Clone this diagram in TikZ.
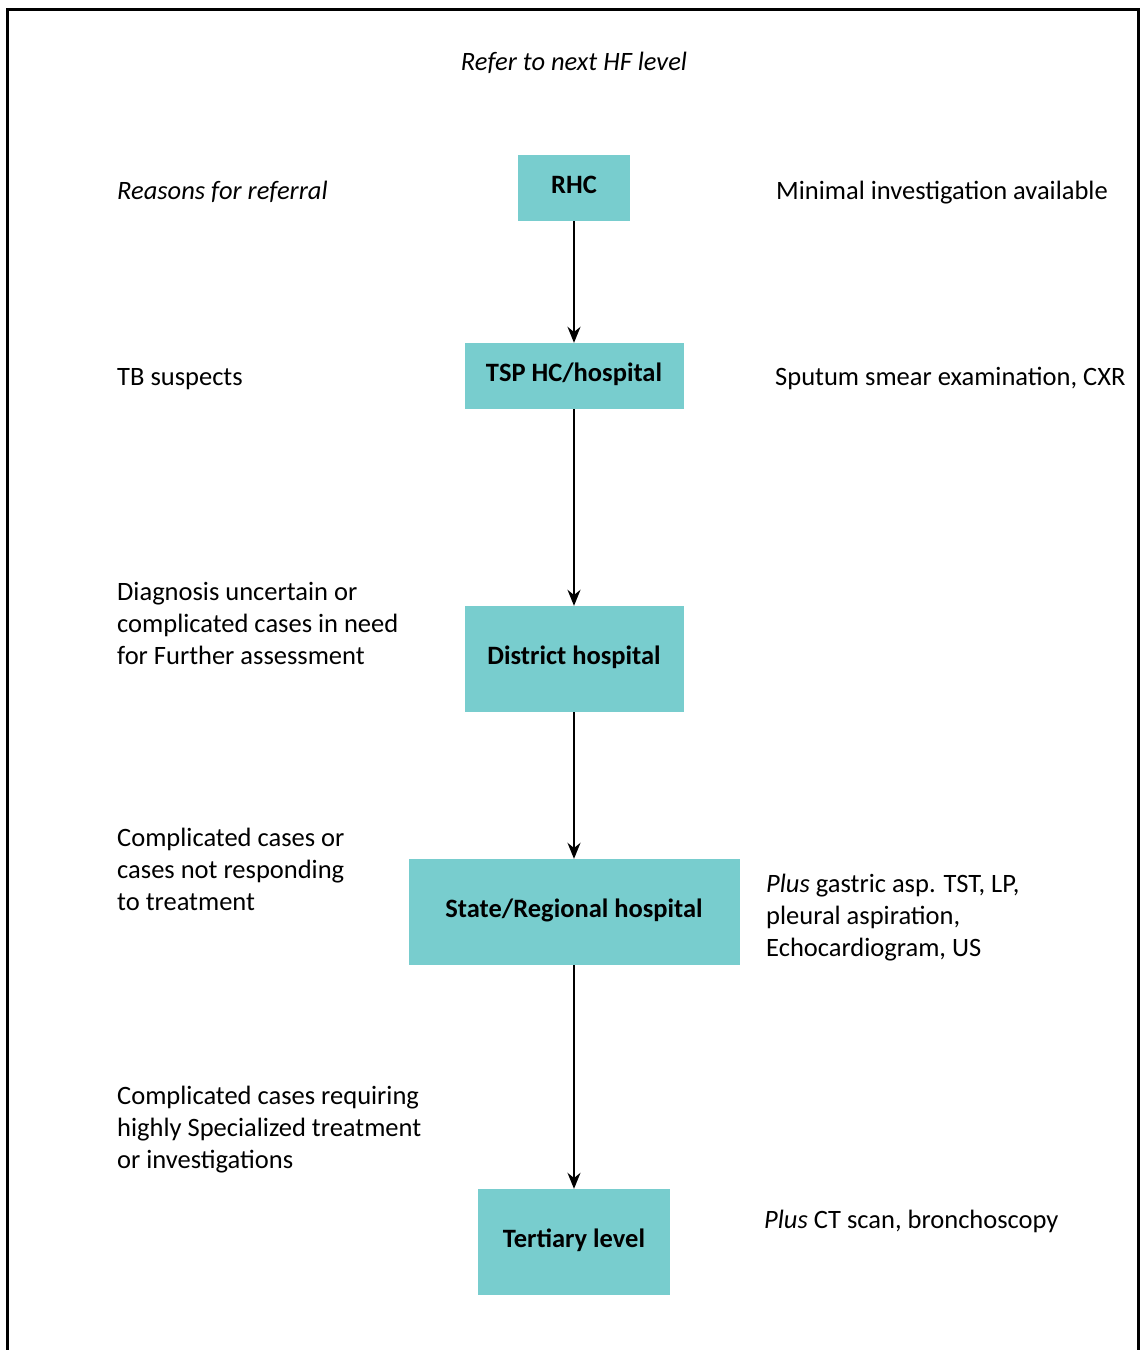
\documentclass[tikz,border=0pt]{standalone}
\usepackage{fontspec}
\setmainfont{Carlito}
\usetikzlibrary{arrows.meta}
\definecolor{boxteal}{RGB}{120,205,206}
\begin{document}
\begin{tikzpicture}[x=1pt,y=-1pt,
  level/.style={fill=boxteal, draw=none, inner sep=0pt, font=\fontsize{26.5}{32}\selectfont\bfseries,
    text height=17pt, text depth=7pt},
  note/.style={anchor=base west, inner sep=0pt, align=left, font=\fontsize{26.5}{32}\selectfont},
  flow/.style={line width=2pt, -{Stealth[length=16pt,width=13pt]}}]
\useasboundingbox (0,0) rectangle (1141,1350);
% outer frame, open at the bottom
\draw[line width=3pt] (7,1350) -- (7,9) -- (1138,9) -- (1138,1350);
% health facility levels, all on one vertical axis
\node[level, minimum width=112pt, minimum height=66pt]  (rhc)   at (574,188)  {RHC};
\node[level, minimum width=219pt, minimum height=66pt]  (tsp)   at (574,376)  {TSP HC/hospital};
\node[level, minimum width=219pt, minimum height=106pt] (dist)  at (574,659)  {District hospital};
\node[level, minimum width=331pt, minimum height=106pt] (state) at (574,912)  {State/Regional hospital};
\node[level, minimum width=192pt, minimum height=106pt] (tert)  at (574,1242) {Tertiary level};
% referral arrows
\draw[flow] (rhc.south)   -- (tsp.north);
\draw[flow] (tsp.south)   -- (dist.north);
\draw[flow] (dist.south)  -- (state.north);
\draw[flow] (state.south) -- (tert.north);
% heading
\node[note, anchor=base] (head) at (574,70) {\itshape Refer to next HF level};
% reasons for referral (multi-line notes sit on the baseline of their last line)
\node[note] (r0) at (117,199) {\itshape Reasons for referral};
\node[note] (r1) at (117,385) {TB suspects};
\node[note] (r2) at (117,664) {Diagnosis uncertain or\\complicated cases in need\\for Further assessment};
\node[note] (r3) at (117,910) {Complicated cases or\\cases not responding\\to treatment};
\node[note] (r4) at (117,1168) {Complicated cases requiring\\highly Specialized treatment\\or investigations};
% investigations available
\node[note] (i0) at (776,199) {Minimal investigation available};
\node[note] (i1) at (775,385) {Sputum smear examination, CXR};
\node[note] (i3) at (766,956) {\textit{Plus} gastric asp. TST, LP,\\pleural aspiration,\\Echocardiogram, US};
\node[note] (i4) at (764,1228) {\textit{Plus} CT scan, bronchoscopy};
\end{tikzpicture}
\end{document}
